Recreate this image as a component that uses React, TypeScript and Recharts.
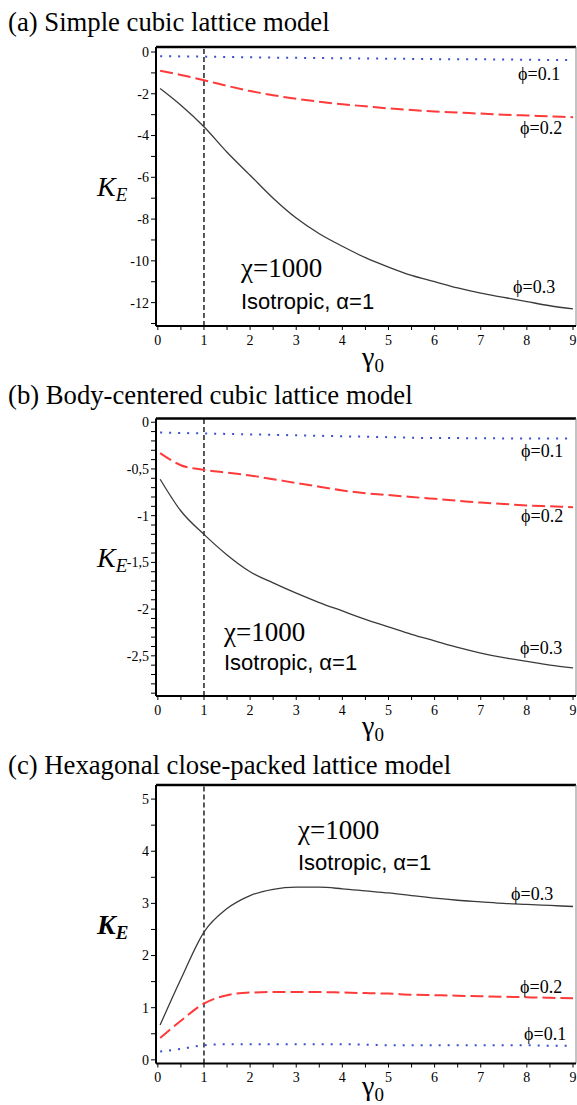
import React from "react";
import { LineChart, Line, XAxis, YAxis, ReferenceLine } from "recharts";

const SERIF = '"Liberation Serif", "DejaVu Serif", "Times New Roman", serif';
const SANS = '"Liberation Sans", Arial, sans-serif';

// shared x values (gamma_0)
const gamma = [0.05, 0.5, 1, 1.5, 2, 2.5, 3, 3.5, 4, 4.5, 5, 5.5, 6, 6.5, 7, 7.5, 8, 8.5, 9];

// (a) simple cubic
const scPhi01 = [-0.2, -0.21, -0.22, -0.24, -0.25, -0.27, -0.28, -0.29, -0.3, -0.31, -0.32, -0.33, -0.34, -0.35, -0.35, -0.36, -0.37, -0.38, -0.38];
const scPhi02 = [-0.9, -1.1, -1.35, -1.62, -1.87, -2.07, -2.24, -2.38, -2.5, -2.6, -2.7, -2.78, -2.85, -2.9, -2.95, -3.0, -3.04, -3.08, -3.12];
const scPhi03 = [-1.75, -2.55, -3.58, -4.8, -5.9, -7.0, -7.95, -8.7, -9.3, -9.85, -10.3, -10.7, -11.0, -11.3, -11.55, -11.75, -11.95, -12.15, -12.3];

// (b) body-centered cubic
const bccPhi01 = [-0.11, -0.115, -0.12, -0.125, -0.13, -0.135, -0.14, -0.145, -0.15, -0.155, -0.16, -0.165, -0.17, -0.17, -0.172, -0.173, -0.175, -0.175, -0.175];
const bccPhi02 = [-0.33, -0.46, -0.51, -0.54, -0.57, -0.61, -0.65, -0.69, -0.73, -0.76, -0.78, -0.8, -0.82, -0.84, -0.86, -0.875, -0.89, -0.9, -0.91];
const bccPhi03 = [-0.61, -0.95, -1.2, -1.42, -1.6, -1.72, -1.83, -1.93, -2.02, -2.11, -2.19, -2.27, -2.34, -2.41, -2.47, -2.52, -2.56, -2.6, -2.63];

// (c) hexagonal close-packed
const hcpPhi01 = [0.16, 0.21, 0.28, 0.3, 0.3, 0.3, 0.3, 0.3, 0.3, 0.29, 0.28, 0.28, 0.28, 0.28, 0.28, 0.28, 0.28, 0.27, 0.27];
const hcpPhi02 = [0.42, 0.75, 1.08, 1.24, 1.29, 1.3, 1.3, 1.3, 1.29, 1.28, 1.27, 1.25, 1.24, 1.23, 1.22, 1.21, 1.2, 1.19, 1.18];
const hcpPhi03 = [0.67, 1.55, 2.45, 2.9, 3.15, 3.27, 3.31, 3.31, 3.28, 3.24, 3.2, 3.15, 3.1, 3.06, 3.03, 3.0, 2.98, 2.96, 2.94];

// axis ticks
const xTicks = [0, 0.5, 1, 1.5, 2, 2.5, 3, 3.5, 4, 4.5, 5, 5.5, 6, 6.5, 7, 7.5, 8, 8.5, 9];
const xMajor = [0, 1, 2, 3, 4, 5, 6, 7, 8, 9];
const yTicksA = [-13, -12, -11, -10, -9, -8, -7, -6, -5, -4, -3, -2, -1, 0];
const yMajorA = [-12, -10, -8, -6, -4, -2, 0];
const yTicksB = [-2.9, -2.8, -2.7, -2.6, -2.5, -2.4, -2.3, -2.2, -2.1, -2, -1.9, -1.8, -1.7, -1.6, -1.5, -1.4, -1.3, -1.2, -1.1, -1, -0.9, -0.8, -0.7, -0.6, -0.5, -0.4, -0.3, -0.2, -0.1, 0];
const yMajorB = [-2.5, -2, -1.5, -1, -0.5, 0];
const yTicksC = [0, 0.5, 1, 1.5, 2, 2.5, 3, 3.5, 4, 4.5, 5];
const yMajorC = [0, 1, 2, 3, 4, 5];

const titles = [
  "(a) Simple cubic lattice model",
  "(b) Body-centered cubic lattice model",
  "(c) Hexagonal close-packed lattice model",
];
const phiLabels = ["\u03D5=0.1", "\u03D5=0.2", "\u03D5=0.3"];
const chiText = "\u03C7=1000";
const isoText = "Isotropic, \u03B1=1";

const fmtComma = (v: number) => String(v).replace(".", ",");

function makeXTick(major: number[]) {
  return (props: any) => {
    const { x, y, payload } = props;
    if (!major.includes(payload.value)) return <g />;
    return (
      <text x={x} y={y} dy="0.71em" textAnchor="middle" fontSize={14} fontFamily={SERIF} fill="#000">
        {String(payload.value)}
      </text>
    );
  };
}

function makeYTick(major: number[], fmt: (v: number) => string) {
  return (props: any) => {
    const { x, y, payload } = props;
    if (!major.some((m) => Math.abs(m - payload.value) < 1e-6)) return <g />;
    return (
      <text x={x} y={y} dy="0.35em" textAnchor="end" fontSize={14} fontFamily={SERIF} fill="#000">
        {fmt(payload.value)}
      </text>
    );
  };
}

function Txt(props: { x: number; cy: number; size: number; family?: string; weight?: any; italic?: boolean; children: any }) {
  const { x, cy, size, family, weight, italic, children } = props;
  return (
    <div
      style={{
        position: "absolute",
        left: x,
        top: cy - size * 0.6,
        fontSize: size,
        lineHeight: `${size * 1.2}px`,
        whiteSpace: "nowrap",
        fontFamily: family || SERIF,
        fontWeight: weight || "normal",
        fontStyle: italic ? "italic" : "normal",
        color: "#000",
      }}
    >
      {children}
    </div>
  );
}

type PanelProps = {
  top: number;
  height: number;
  marginTop: number;
  marginBottom: number;
  yDomain: [number, number];
  yTicks: number[];
  yMajor: number[];
  fmt: (v: number) => string;
  s1: number[];
  s2: number[];
  s3: number[];
};

const xDomain: [number, number] = [-0.04, 9.065];

function Panel(p: PanelProps) {
  const data = gamma.map((g, i) => ({ g, p1: p.s1[i], p2: p.s2[i], p3: p.s3[i] }));
  return (
    <div style={{ position: "absolute", left: 0, top: p.top, width: 577, height: p.height }}>
      <LineChart
        width={577}
        height={p.height}
        data={data}
        margin={{ top: p.marginTop, right: 1, bottom: p.marginBottom, left: 96 }}
      >
        <XAxis
          type="number"
          dataKey="g"
          domain={xDomain}
          allowDataOverflow
          ticks={xTicks}
          interval={0}
          height={30}
          tickSize={4}
          tickMargin={5}
          axisLine={{ stroke: "#000", strokeWidth: 2 }}
          tickLine={{ stroke: "#000", strokeWidth: 1 }}
          tick={makeXTick(xMajor)}
        />
        <YAxis
          type="number"
          domain={p.yDomain}
          allowDataOverflow
          ticks={p.yTicks}
          interval={0}
          width={60}
          tickSize={5}
          tickMargin={2}
          axisLine={{ stroke: "#000", strokeWidth: 2 }}
          tickLine={{ stroke: "#000", strokeWidth: 1 }}
          tick={makeYTick(p.yMajor, p.fmt)}
        />
        <ReferenceLine y={p.yDomain[1]} stroke="#000" strokeWidth={2.5} />
        <ReferenceLine x={xDomain[1]} stroke="#888" strokeWidth={1} />
        <ReferenceLine x={1} stroke="#000" strokeWidth={1.3} strokeDasharray="5 3" />
        <Line type="monotone" dataKey="p1" stroke="#3a4fd0" strokeWidth={2} strokeDasharray="2 7" dot={false} isAnimationActive={false} />
        <Line type="monotone" dataKey="p2" stroke="#ff3a3a" strokeWidth={2} strokeDasharray="13 5" dot={false} isAnimationActive={false} />
        <Line type="monotone" dataKey="p3" stroke="#3a3a3a" strokeWidth={1.3} dot={false} isAnimationActive={false} />
      </LineChart>
    </div>
  );
}

function KE(props: { x: number; cy: number; bold?: boolean }) {
  return (
    <Txt x={props.x} cy={props.cy} size={28} italic weight={props.bold ? "bold" : "normal"}>
      K<span style={{ fontSize: 19, verticalAlign: "-0.25em" }}>E</span>
    </Txt>
  );
}

function Gamma0(props: { x: number; cy: number }) {
  return (
    <Txt x={props.x} cy={props.cy} size={28}>
      {"\u03B3"}
      <span style={{ fontSize: 19, verticalAlign: "-0.3em" }}>0</span>
    </Txt>
  );
}

export default function App() {
  return (
    <div style={{ position: "absolute", left: 0, top: 0, width: 577, height: 1105, background: "#fff", overflow: "hidden" }}>
      <Panel top={0} height={370} marginTop={47} marginBottom={14} yDomain={[-13.12, 0.24]} yTicks={yTicksA} yMajor={yMajorA} fmt={(v) => String(v)} s1={scPhi01} s2={scPhi02} s3={scPhi03} />
      <Panel top={370} height={360} marginTop={48.5} marginBottom={4} yDomain={[-2.93, 0.04]} yTicks={yTicksB} yMajor={yMajorB} fmt={fmtComma} s1={bccPhi01} s2={bccPhi02} s3={bccPhi03} />
      <Panel top={740} height={365} marginTop={45} marginBottom={11.5} yDomain={[-0.07, 5.27]} yTicks={yTicksC} yMajor={yMajorC} fmt={(v) => String(v)} s1={hcpPhi01} s2={hcpPhi02} s3={hcpPhi03} />

      <Txt x={8} cy={22} size={26.7}>{titles[0]}</Txt>
      <Txt x={8} cy={395} size={26.7}>{titles[1]}</Txt>
      <Txt x={8} cy={765} size={26.7}>{titles[2]}</Txt>

      <KE x={97} cy={187} />
      <KE x={97} cy={558} />
      <KE x={97} cy={925} bold />

      <Gamma0 x={362} cy={357} />
      <Gamma0 x={362} cy={726} />
      <Gamma0 x={362} cy={1086} />

      <Txt x={241} cy={268} size={27}>{chiText}</Txt>
      <Txt x={241} cy={302} size={22} family={SANS}>{isoText}</Txt>
      <Txt x={224} cy={632} size={27}>{chiText}</Txt>
      <Txt x={224} cy={663} size={22} family={SANS}>{isoText}</Txt>
      <Txt x={298} cy={830} size={27}>{chiText}</Txt>
      <Txt x={298} cy={863} size={22} family={SANS}>{isoText}</Txt>

      <Txt x={518} cy={75} size={18}>{phiLabels[0]}</Txt>
      <Txt x={520} cy={129} size={18}>{phiLabels[1]}</Txt>
      <Txt x={513} cy={288} size={18}>{phiLabels[2]}</Txt>

      <Txt x={521} cy={452} size={18}>{phiLabels[0]}</Txt>
      <Txt x={521} cy={517} size={18}>{phiLabels[1]}</Txt>
      <Txt x={520} cy={649} size={18}>{phiLabels[2]}</Txt>

      <Txt x={511} cy={895} size={18}>{phiLabels[2]}</Txt>
      <Txt x={520} cy={988} size={18}>{phiLabels[1]}</Txt>
      <Txt x={524} cy={1035} size={18}>{phiLabels[0]}</Txt>
    </div>
  );
}
